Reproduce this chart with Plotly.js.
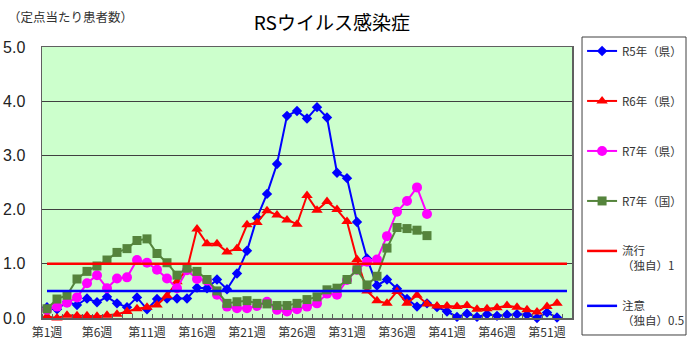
<!DOCTYPE html>
<html>
<head>
<meta charset="utf-8">
<script src="https://cdn.plot.ly/plotly-3.0.1.min.js"></script>
<style>
html,body{margin:0;padding:0;background:#fff;}
#chart{width:690px;height:359px;}
</style>
</head>
<body>
<div id="chart"></div>
<script>
// Week numbers (x categories)
const weeks = [1,2,3,4,5,6,7,8,9,10,11,12,13,14,15,16,17,18,19,20,21,22,23,24,25,26,27,28,29,30,31,32,33,34,35,36,37,38,39,40,41,42,43,44,45,46,47,48,49,50,51,52,53];
const tickWeeks = [1,6,11,16,21,26,31,36,41,46,51];
const tickLabels = ["第1週","第6週","第11週","第16週","第21週","第26週","第31週","第36週","第41週","第46週","第51週"];

// Series values (per-week patients per sentinel)
const r5Pref = [0.2,0.16,0.3,0.24,0.36,0.29,0.39,0.27,0.2,0.38,
                0.16,0.35,0.36,0.36,0.36,0.56,0.55,0.71,0.53,0.82,
                1.24,1.85,2.29,2.84,3.73,3.82,3.68,3.89,3.7,2.68,
                2.58,1.77,1.1,0.6,0.71,0.54,0.35,0.21,0.27,0.2,
                0.12,0.02,0.08,0.02,0.07,0.04,0.06,0.07,0.06,0.0,0.1,0.01];
const r6Pref = [0.03,0.0,0.05,0.04,0.04,0.03,0.05,0.07,0.12,0.17,
                0.2,0.24,0.41,0.67,0.9,1.64,1.37,1.37,1.22,1.28,
                1.72,1.76,1.98,1.9,1.81,1.73,2.26,1.99,2.15,2.0,
                1.78,1.08,0.5,0.32,0.27,0.49,0.27,0.42,0.26,0.22,
                0.22,0.21,0.23,0.16,0.17,0.19,0.23,0.2,0.15,0.11,0.21,0.27];
const r7Pref = [0.15,0.21,0.28,0.38,0.64,0.79,0.55,0.73,0.75,1.07,
                1.02,0.89,0.73,0.55,0.88,0.72,0.69,0.43,0.21,0.18,
                0.18,0.22,0.3,0.15,0.12,0.16,0.21,0.27,0.45,0.43,
                0.7,0.89,1.04,1.08,1.51,1.96,2.16,2.41,1.92];
const r7Nat  = [0.17,0.35,0.42,0.72,0.86,0.96,1.07,1.21,1.28,1.43,
                1.46,1.19,1.02,0.79,0.92,0.86,0.71,0.5,0.27,0.3,
                0.32,0.27,0.26,0.23,0.23,0.27,0.34,0.39,0.52,0.55,
                0.71,0.89,0.61,0.77,1.29,1.67,1.65,1.62,1.52];
const epidemicLevel = 1;
const cautionLevel = 0.5;
const levelSpan = [weeks[0], weeks[weeks.length-1]];

const jp = '"Noto Sans CJK JP", "Noto Sans", sans-serif';

function series(name, ys, color, symbol, size, group){
  return {
    type:'scatter', mode:'lines+markers', name:name,
    x: weeks.slice(0, ys.length), y: ys,
    line:{color:color, width:2},
    marker:{color:color, symbol:symbol, size:size, line:{width:0}},
    legendgroup:group, cliponaxis:false
  };
}
const traces = [
  series('R5年（県）', r5Pref, '#0000FF', 'diamond', 8, 'g1'),
  series('R6年（県）', r6Pref, '#FF0000', 'triangle-up', 10, 'g2'),
  series('R7年（県）', r7Pref, '#FF00FF', 'circle', 10, 'g3'),
  series('R7年（国）', r7Nat, '#55843C', 'square', 9, 'g4'),
  {type:'scatter', mode:'lines', name:'流行<br>（独自）1', x:levelSpan, y:[epidemicLevel, epidemicLevel],
   line:{color:'#FF0000', width:2.5}, legendgroup:'g5', legend:'legend2'},
  {type:'scatter', mode:'lines', name:'注意<br>（独自）0.5', x:levelSpan, y:[cautionLevel, cautionLevel],
   line:{color:'#0000FF', width:2.5}, legendgroup:'g6', legend:'legend2'}
];

const legendFont = {family:jp, size:11.5, color:'#333'};

const layout = {
  width:690, height:359,
  margin:{l:42, r:118, t:47, b:41, autoexpand:false},
  paper_bgcolor:'#FFFFFF',
  plot_bgcolor:'#CCFFCC',
  showlegend:true,
  title:{text:'RSウイルス感染症', x:0.481, xanchor:'center', y:0.936, yanchor:'middle',
         font:{family:jp, size:19, color:'#000'}},
  xaxis:{
    range:[0.5, 53.5], tickmode:'array', tickvals:tickWeeks, ticktext:tickLabels,
    ticks:'', showgrid:false, zeroline:false, ticklabelstandoff:3,
    showline:true, mirror:true, linecolor:'#606060', linewidth:1.5,
    tickfont:{family:jp, size:12, color:'#333'},
    minor:{tick0:0.5, dtick:1, ticks:'inside', ticklen:4, tickcolor:'#606060', showgrid:false}
  },
  yaxis:{
    range:[0,5], dtick:1, tick0:0, tickformat:'.1f',
    showgrid:true, gridcolor:'#404040', gridwidth:1, zeroline:false,
    showline:true, mirror:true, linecolor:'#606060', linewidth:1.5,
    ticks:'', ticklabelstandoff:12,
    tickfont:{family:'"Liberation Sans", Arial, sans-serif', size:16, color:'#222'}
  },
  legend:{
    x:1.019, y:1.037, xanchor:'left', yanchor:'top',
    bgcolor:'rgba(0,0,0,0)', borderwidth:0,
    font:legendFont, tracegroupgap:31, valign:'top', itemwidth:30, maxheight:340
  },
  legend2:{
    x:1.019, y:0.299, xanchor:'left', yanchor:'top',
    bgcolor:'rgba(0,0,0,0)', borderwidth:0,
    font:legendFont, tracegroupgap:22, valign:'top', itemwidth:30, maxheight:340
  },
  shapes:[
    {type:'rect', xref:'paper', yref:'paper', x0:1.0189, x1:1.2151, y0:-0.0627, y1:1.0369,
     line:{color:'#404040', width:1}, fillcolor:'rgba(0,0,0,0)', layer:'below'}
  ],
  annotations:[
    {text:'（定点当たり患者数）', xref:'paper', yref:'paper', x:-0.068, y:1.111,
     xanchor:'left', yanchor:'middle', showarrow:false,
     font:{family:jp, size:12.5, color:'#333'}}
  ]
};

Plotly.newPlot('chart', traces, layout, {displayModeBar:false, staticPlot:true});
</script>
</body>
</html>
